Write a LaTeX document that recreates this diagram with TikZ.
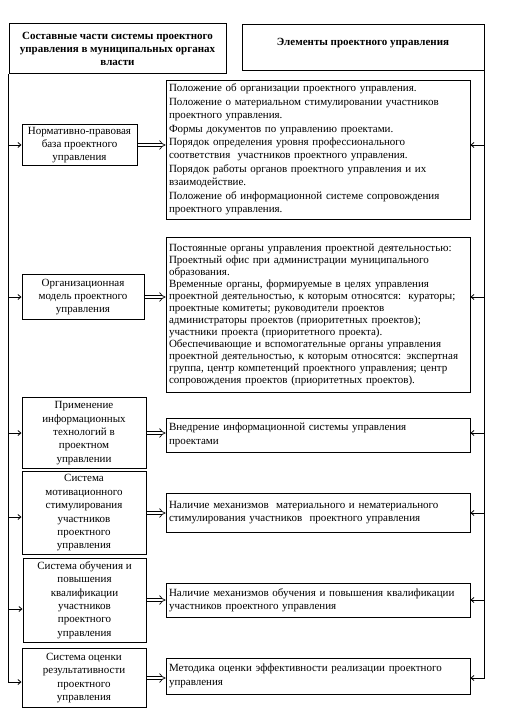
\documentclass[tikz,border=0pt]{standalone}
\usepackage{fontspec}
\setmainfont{Liberation Serif}
\usetikzlibrary{arrows.meta}

\begin{document}
\begin{tikzpicture}[
  x=1pt, y=-1pt, font=\fontsize{11}{13.4}\selectfont,
  hb/.style={draw, line width=1pt, align=center, inner sep=0pt, font=\fontsize{11}{13}\selectfont\bfseries},
  lb/.style={draw, line width=1pt, align=center, inner sep=0pt, minimum width=124pt},
  rb/.style={draw, line width=0.8pt, align=left, text width=298pt, inner xsep=3pt, inner ysep=0pt},
  pf/.style={double, double distance=2.6pt, line width=0.7pt, -{Implies}},
  sa/.style={line width=0.8pt, -{Straight Barb[length=3pt,width=5pt]}}
]
\useasboundingbox (0,0) rectangle (512,714);
\node[hb, minimum width=217pt, minimum height=50pt] (hdrL) at (117.5,49) {Составные части системы проектного\\управления в муниципальных органах\\власти};
\node[hb, minimum width=242pt, minimum height=46pt, text depth=12pt] (hdrR) at (363,48) {Элементы проектного управления};
\node[lb, minimum width=115pt, minimum height=41pt] (nb) at (79.5,145) {Нормативно-правовая\\база проектного\\управления};
\node[lb, minimum width=122pt, minimum height=45pt] (om) at (83,297) {Организационная\\модель проектного\\управления};
\node[lb, minimum height=71pt] (it) at (84,433) {Применение\\информационных\\технологий в\\проектном\\управлении};
\node[lb, minimum height=83pt] (ms) at (84,513) {Система\\мотивационного\\стимулирования\\участников\\проектного\\управления};
\node[lb, minimum width=123pt, minimum height=84pt] (ob) at (84.5,600) {Система обучения и\\повышения\\квалификации\\участников\\проектного\\управления};
\node[lb, minimum height=59pt] (oc) at (84,678) {Система оценки\\результативности\\проектного\\управления};
\node[rb, minimum height=139pt] (nbE) at (318,149.5) {Положение об организации проектного управления.\\Положение о материальном стимулировании участников\\проектного управления.\\Формы документов по управлению проектами.\\Порядок определения уровня профессионального\\соответствия\ \ участников проектного управления.\\Порядок работы органов проектного управления и их\\взаимодействие.\\Положение об информационной системе сопровождения\\проектного управления.};
\node[rb, minimum height=155pt, font=\fontsize{11}{12}\selectfont] (omE) at (318,314.5) {Постоянные органы управления проектной деятельностью:\\Проектный офис при администрации муниципального\\образования.\\Временные органы, формируемые в целях управления\\проектной деятельностью, к которым относятся:\ \ кураторы;\\проектные комитеты; руководители проектов\\администраторы проектов (приоритетных проектов);\\участники проекта (приоритетного проекта).\\Обеспечивающие и вспомогательные органы управления\\проектной деятельностью, к которым относятся: экспертная\\группа, центр компетенций проектного управления; центр\\сопровождения проектов (приоритетных проектов).\\[4pt]};
\node[rb, minimum height=34pt] (itE) at (318,435) {Внедрение информационной системы управления\\проектами};
\node[rb, minimum height=39pt] (msE) at (318,512.5) {Наличие механизмов\ \ материального и нематериального\\стимулирования участников\ \ проектного управления};
\node[rb, minimum height=34pt] (obE) at (318,600) {Наличие механизмов обучения и повышения квалификации\\участников проектного управления};
\node[rb, minimum height=36pt] (ocE) at (318,676) {Методика оценки эффективности реализации проектного\\управления};
\draw[sa] (hdrL.south west) |- (nb); \draw[sa] (hdrL.south west) |- (om);
\draw[sa] (hdrL.south west) |- (it); \draw[sa] (hdrL.south west) |- ([yshift=-4pt]ms.west);
\draw[sa] (hdrL.south west) |- ([yshift=-9pt]ob.west); \draw[sa] (hdrL.south west) |- ([yshift=-4pt]oc.west);
\draw[sa] (hdrR.south east) |- (nb -| nbE.east); \draw[sa] (hdrR.south east) |- (om -| omE.east);
\draw[sa] (hdrR.south east) |- (it -| itE.east); \draw[sa] (hdrR.south east) |- (ms -| msE.east);
\draw[sa] (hdrR.south east) |- (ob -| obE.east); \draw[sa] (hdrR.south east) |- (oc -| ocE.east);
\draw[pf] (nb.east) -- (nb.east -| nbE.west); \draw[pf] (om.east) -- (om.east -| omE.west);
\draw[pf] (it.east) -- (it.east -| itE.west); \draw[pf] (ms.east) -- (ms.east -| msE.west);
\draw[pf] (ob.east) -- (ob.east -| obE.west); \draw[pf] (oc.east) -- (oc.east -| ocE.west);
\end{tikzpicture}
\end{document}
